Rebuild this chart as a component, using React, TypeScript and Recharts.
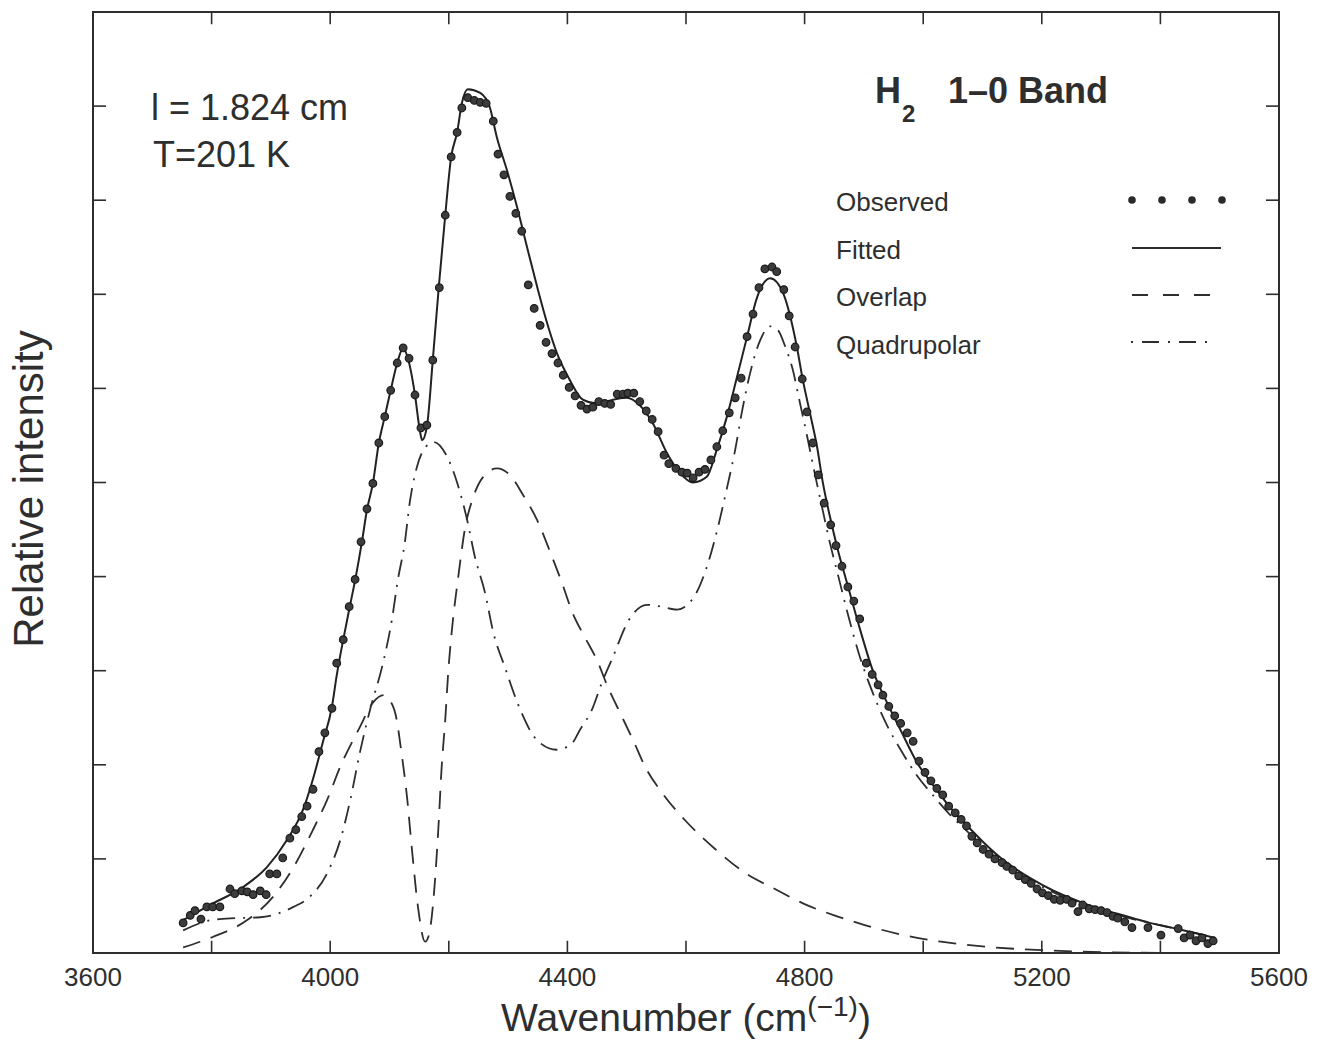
import { ComposedChart, Line, ReferenceArea, ReferenceLine, Scatter, XAxis, YAxis } from "recharts";

const font = "'Liberation Sans', Arial, Helvetica, sans-serif";
const ink = "#2e2e2e";

const xTicks = [3600, 3800, 4000, 4200, 4400, 4600, 4800, 5000, 5200, 5400, 5600];
const yTicks = [0, 1, 2, 3, 4, 5, 6, 7, 8, 9, 10];
const xDomain: [number, number] = [3600, 5600];
const yDomain: [number, number] = [0, 10];

// [wavenumber, intensity]
const observed: [number, number][] = [
  [3752, 0.32], [3764, 0.4], [3772, 0.45], [3782, 0.36], [3792, 0.49], [3802, 0.49], [3814, 0.49],
  [3831, 0.68], [3839, 0.63], [3851, 0.66], [3860, 0.65], [3870, 0.62], [3882, 0.66], [3892, 0.62],
  [3898, 0.84], [3910, 0.84], [3920, 1.01], [3932, 1.22], [3942, 1.31], [3952, 1.45], [3961, 1.56],
  [3971, 1.74], [3981, 2.14], [3991, 2.34], [4003, 2.6], [4011, 3.08], [4022, 3.33], [4032, 3.68],
  [4042, 3.97], [4052, 4.37], [4062, 4.72], [4072, 4.99], [4082, 5.42], [4092, 5.7], [4102, 5.98],
  [4113, 6.27], [4123, 6.43], [4133, 6.32], [4143, 5.93], [4153, 5.58], [4163, 5.61], [4173, 6.3],
  [4184, 7.07], [4194, 7.84], [4204, 8.46], [4214, 8.72], [4222, 8.98], [4232, 9.09], [4243, 9.06],
  [4253, 9.04], [4263, 9.03], [4275, 8.84], [4283, 8.49], [4293, 8.27], [4303, 8.04], [4313, 7.86],
  [4323, 7.67], [4334, 7.1], [4344, 6.85], [4354, 6.67], [4364, 6.49], [4374, 6.37], [4384, 6.27],
  [4393, 6.14], [4403, 6.01], [4413, 5.92], [4423, 5.82], [4433, 5.78], [4443, 5.8], [4453, 5.86],
  [4463, 5.84], [4473, 5.83], [4484, 5.94], [4494, 5.94], [4502, 5.95], [4512, 5.95], [4522, 5.86],
  [4533, 5.76], [4543, 5.67], [4553, 5.54], [4563, 5.29], [4571, 5.2], [4583, 5.15], [4593, 5.11],
  [4602, 5.1], [4612, 5.05], [4622, 5.11], [4632, 5.14], [4642, 5.24], [4652, 5.38], [4662, 5.55],
  [4673, 5.74], [4683, 5.9], [4693, 6.11], [4703, 6.55], [4713, 6.79], [4723, 7.07], [4733, 7.27],
  [4745, 7.29], [4753, 7.24], [4765, 7.05], [4774, 6.77], [4784, 6.44], [4796, 6.1], [4804, 5.75],
  [4814, 5.42], [4823, 5.08], [4833, 4.78], [4844, 4.55], [4853, 4.33], [4863, 4.11], [4873, 3.89],
  [4883, 3.74], [4893, 3.55], [4904, 3.08], [4914, 2.96], [4924, 2.85], [4932, 2.74], [4942, 2.62],
  [4952, 2.52], [4962, 2.44], [4973, 2.34], [4983, 2.25], [4993, 2.04], [5003, 1.92], [5013, 1.83],
  [5023, 1.75], [5033, 1.68], [5043, 1.56], [5054, 1.49], [5064, 1.42], [5073, 1.35], [5082, 1.24],
  [5091, 1.17], [5101, 1.1], [5111, 1.05], [5121, 1.0], [5133, 0.96], [5141, 0.92], [5151, 0.88],
  [5161, 0.82], [5172, 0.78], [5182, 0.74], [5192, 0.68], [5201, 0.64], [5211, 0.61], [5221, 0.57],
  [5231, 0.56], [5242, 0.57], [5251, 0.53], [5261, 0.44], [5269, 0.51], [5280, 0.47], [5290, 0.46],
  [5300, 0.45], [5310, 0.43], [5320, 0.39], [5328, 0.37], [5340, 0.33], [5352, 0.27], [5379, 0.27],
  [5401, 0.19], [5430, 0.26], [5440, 0.16], [5450, 0.19], [5460, 0.13], [5470, 0.16], [5480, 0.1],
  [5489, 0.13],
];

const fitted: [number, number][] = [
  [3752, 0.35], [3797, 0.51], [3853, 0.7], [3893, 0.91], [3927, 1.2], [3954, 1.52], [3971, 1.85],
  [3988, 2.25], [4003, 2.62], [4011, 2.95], [4022, 3.33], [4033, 3.68], [4042, 3.96], [4054, 4.39],
  [4062, 4.71], [4072, 4.99], [4082, 5.42], [4092, 5.7], [4102, 5.98], [4113, 6.27], [4123, 6.43],
  [4131, 6.32], [4143, 5.93], [4151, 5.56], [4155, 5.45], [4163, 5.59], [4173, 6.3], [4183, 7.07],
  [4194, 7.84], [4204, 8.46], [4214, 8.72], [4222, 9.03], [4232, 9.18], [4253, 9.14], [4269, 8.99],
  [4281, 8.67], [4298, 8.32], [4315, 7.93], [4332, 7.5], [4349, 7.08], [4366, 6.69], [4382, 6.38],
  [4404, 6.09], [4426, 5.88], [4450, 5.84], [4477, 5.88], [4500, 5.9], [4522, 5.82], [4544, 5.63],
  [4568, 5.31], [4590, 5.1], [4612, 5.0], [4635, 5.06], [4652, 5.35], [4669, 5.7], [4686, 6.12],
  [4703, 6.55], [4720, 6.97], [4742, 7.17], [4764, 7.01], [4776, 6.76], [4787, 6.44], [4797, 6.09],
  [4809, 5.74], [4821, 5.38], [4831, 4.99], [4843, 4.63], [4855, 4.31], [4873, 3.9], [4893, 3.45],
  [4914, 3.02], [4939, 2.66], [4961, 2.38], [4990, 2.02], [5016, 1.79], [5045, 1.55], [5073, 1.36],
  [5101, 1.18], [5129, 1.02], [5157, 0.89], [5185, 0.78], [5214, 0.68], [5242, 0.6], [5270, 0.53],
  [5298, 0.47], [5326, 0.42], [5354, 0.37], [5382, 0.32], [5411, 0.28], [5440, 0.24], [5467, 0.2],
  [5492, 0.16],
];

const overlap: [number, number][] = [
  [3752, 0.06], [3802, 0.17], [3860, 0.35], [3904, 0.6], [3938, 0.91], [3971, 1.31], [3995, 1.63],
  [4017, 1.98], [4050, 2.4], [4072, 2.66], [4090, 2.74], [4100, 2.69], [4113, 2.45], [4118, 2.23],
  [4130, 1.63], [4138, 1.09], [4148, 0.49], [4160, 0.12], [4166, 0.18], [4173, 0.49], [4182, 1.28],
  [4188, 1.98], [4194, 2.48], [4199, 2.98], [4207, 3.54], [4216, 4.0], [4227, 4.5], [4241, 4.84],
  [4258, 5.06], [4281, 5.15], [4303, 5.08], [4325, 4.87], [4349, 4.6], [4371, 4.26], [4391, 3.93],
  [4409, 3.61], [4430, 3.35], [4450, 3.11], [4468, 2.83], [4489, 2.55], [4511, 2.26], [4531, 1.98],
  [4560, 1.7], [4600, 1.4], [4650, 1.1], [4700, 0.85], [4750, 0.68], [4800, 0.52], [4850, 0.4],
  [4900, 0.3], [4960, 0.2], [5030, 0.12], [5100, 0.07], [5200, 0.03], [5300, 0.01], [5400, 0.0],
];

const quadrupolar: [number, number][] = [
  [3752, 0.24], [3800, 0.35], [3840, 0.37], [3882, 0.38], [3938, 0.49], [3966, 0.6], [3995, 0.85],
  [4017, 1.2], [4034, 1.63], [4050, 2.13], [4067, 2.58], [4089, 3.08], [4104, 3.54], [4114, 3.96],
  [4126, 4.37], [4134, 4.78], [4146, 5.16], [4160, 5.37], [4175, 5.43], [4195, 5.3], [4214, 5.0],
  [4231, 4.6], [4244, 4.21], [4261, 3.83], [4275, 3.41], [4295, 3.03], [4317, 2.64], [4349, 2.26],
  [4382, 2.16], [4408, 2.23], [4421, 2.37], [4441, 2.58], [4458, 2.87], [4477, 3.15], [4502, 3.52],
  [4534, 3.7], [4559, 3.68], [4585, 3.65], [4612, 3.77], [4637, 4.14], [4654, 4.53], [4669, 4.94],
  [4683, 5.35], [4694, 5.74], [4708, 6.16], [4725, 6.51], [4742, 6.66], [4755, 6.62], [4767, 6.45],
  [4780, 6.2], [4792, 5.85], [4804, 5.5], [4817, 5.1], [4829, 4.75], [4843, 4.35], [4855, 4.05],
  [4873, 3.6], [4893, 3.15], [4914, 2.78], [4939, 2.42], [4961, 2.17], [4990, 1.88], [5016, 1.68],
  [5045, 1.47], [5073, 1.3], [5101, 1.13], [5129, 0.98], [5157, 0.86], [5185, 0.76], [5214, 0.66],
  [5242, 0.58], [5270, 0.52], [5298, 0.46], [5326, 0.41], [5354, 0.36], [5382, 0.32], [5411, 0.28],
  [5440, 0.24], [5467, 0.2], [5492, 0.16],
];

const toPts = (arr: [number, number][]) => arr.map(([x, y]) => ({ x, y }));

// inward tick length, in data units (about 12-13 px)
const tickLenY = 0.13;
const tickLenX = 22;

const overlapDash = "18 11";
const quadDash = "18 8 2 8";

const legendRows = ["Observed", "Fitted", "Overlap", "Quadrupolar"];

const Dot = (props: any) => {
  const { cx, cy } = props;
  if (cx == null || cy == null) return null;
  return <circle cx={cx} cy={cy} r={3.8} fill="#3c3c3c" stroke="#1a1a1a" strokeWidth={1.2} />;
};

export default function App() {
  const innerX = xTicks.slice(1, -1);
  const innerY = yTicks.slice(1, -1);
  const tickProps = { xAxisId: "b", yAxisId: "l", stroke: ink, strokeWidth: 1.6, ifOverflow: "visible" as const };
  return (
    <div style={{ position: "absolute", left: 0, top: 0, width: 1321, height: 1061, background: "#fff", fontFamily: font, color: ink }}>
      <ComposedChart width={1321} height={1061} margin={{ top: 12, right: 42, bottom: 48, left: 93 }}>
        <XAxis
          xAxisId="b"
          type="number"
          dataKey="x"
          domain={xDomain}
          ticks={xTicks}
          interval={0}
          height={60}
          tickSize={0}
          tickMargin={15}
          axisLine={false}
          tickLine={false}
          tick={{ fontSize: 26, fill: ink, fontFamily: font }}
          tickFormatter={(v: number) => (v % 400 === 0 ? String(v) : "")}
        />
        <YAxis yAxisId="l" type="number" dataKey="y" domain={yDomain} hide />
        <ReferenceArea xAxisId="b" yAxisId="l" x1={xDomain[0]} x2={xDomain[1]} y1={yDomain[0]} y2={yDomain[1]} fill="none" fillOpacity={0} stroke={ink} strokeWidth={2} ifOverflow="visible" />
        {innerX.map((x) => (
          <ReferenceLine key={`xb${x}`} {...tickProps} segment={[{ x, y: yDomain[0] }, { x, y: yDomain[0] + tickLenY }]} />
        ))}
        {innerX.map((x) => (
          <ReferenceLine key={`xt${x}`} {...tickProps} segment={[{ x, y: yDomain[1] }, { x, y: yDomain[1] - tickLenY }]} />
        ))}
        {innerY.map((y) => (
          <ReferenceLine key={`yl${y}`} {...tickProps} segment={[{ x: xDomain[0], y }, { x: xDomain[0] + tickLenX, y }]} />
        ))}
        {innerY.map((y) => (
          <ReferenceLine key={`yr${y}`} {...tickProps} segment={[{ x: xDomain[1], y }, { x: xDomain[1] - tickLenX, y }]} />
        ))}
        <Line xAxisId="b" yAxisId="l" data={toPts(overlap)} dataKey="y" type="monotone" stroke={ink} strokeWidth={1.8} strokeDasharray={overlapDash} dot={false} isAnimationActive={false} />
        <Line xAxisId="b" yAxisId="l" data={toPts(quadrupolar)} dataKey="y" type="monotone" stroke={ink} strokeWidth={1.8} strokeDasharray={quadDash} dot={false} isAnimationActive={false} />
        <Line xAxisId="b" yAxisId="l" data={toPts(fitted)} dataKey="y" type="monotone" stroke="#222" strokeWidth={2} dot={false} isAnimationActive={false} />
        <Scatter xAxisId="b" yAxisId="l" data={toPts(observed)} dataKey="y" shape={Dot} isAnimationActive={false} />
      </ComposedChart>

      {/* annotations */}
      <div style={{ position: "absolute", left: 151, top: 90, fontSize: 36, lineHeight: 1, whiteSpace: "nowrap" }}>l = 1.824 cm</div>
      <div style={{ position: "absolute", left: 153, top: 137, fontSize: 36, lineHeight: 1, whiteSpace: "nowrap" }}>T=201 K</div>
      <div style={{ position: "absolute", left: 875, top: 73, fontSize: 36, fontWeight: "bold", lineHeight: 1 }}>H</div>
      <div style={{ position: "absolute", left: 902, top: 102, fontSize: 24, fontWeight: "bold", lineHeight: 1 }}>2</div>
      <div style={{ position: "absolute", left: 948, top: 73, fontSize: 36, fontWeight: "bold", lineHeight: 1, whiteSpace: "nowrap" }}>1–0 Band</div>

      {/* legend */}
      {legendRows.map((name, i) => (
        <div key={name} style={{ position: "absolute", left: 836, top: 189 + i * 47.5, fontSize: 26, lineHeight: 1, whiteSpace: "nowrap" }}>
          {name}
        </div>
      ))}
      <svg style={{ position: "absolute", left: 1120, top: 180, overflow: "visible" }} width={120} height={180}>
        {[12, 42, 72, 102].map((x) => (
          <circle key={x} cx={x} cy={20} r={3.8} fill="#2a2a2a" />
        ))}
        <line x1={12} x2={101} y1={68} y2={68} stroke={ink} strokeWidth={2} />
        <line x1={12} x2={96} y1={115} y2={115} stroke={ink} strokeWidth={1.8} strokeDasharray="16 15" />
        <line x1={11} x2={92} y1={162} y2={162} stroke={ink} strokeWidth={1.8} strokeDasharray="2 9 17 9" />
      </svg>

      {/* axis titles */}
      <div style={{ position: "absolute", left: 29, top: 489, transform: "translate(-50%, -50%) rotate(-90deg)", fontSize: 42, lineHeight: 1, whiteSpace: "nowrap" }}>
        Relative intensity
      </div>
      <div style={{ position: "absolute", left: 686, top: 998, transform: "translateX(-50%)", fontSize: 39, lineHeight: 1, whiteSpace: "nowrap" }}>
        Wavenumber (cm<span style={{ fontSize: 28, position: "relative", top: -15 }}>(−1)</span>)
      </div>
    </div>
  );
}
